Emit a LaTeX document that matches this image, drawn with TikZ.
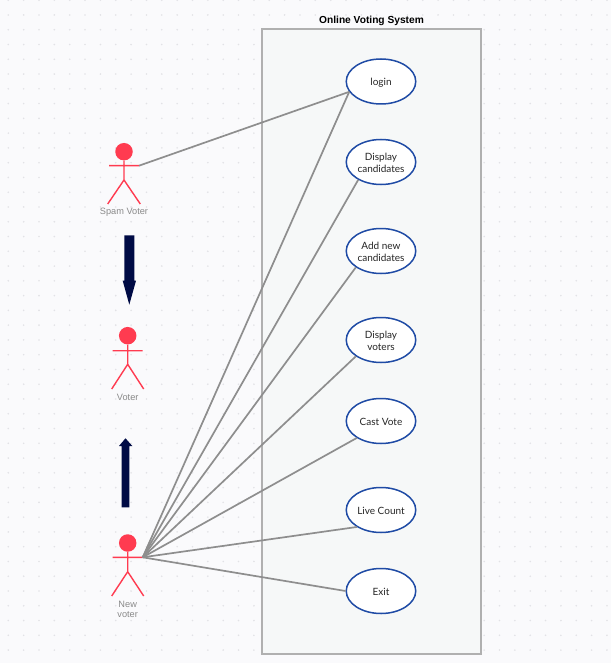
\documentclass[tikz,border=0pt]{standalone}
\usepackage{fontspec}
\setmainfont{Liberation Sans}
\newfontfamily\casefont{Lato}
\definecolor{bgc}{HTML}{FAFAFC}
\definecolor{dotc}{HTML}{E2E2E6}
\definecolor{boxfill}{HTML}{F6F8F8}
\definecolor{boxline}{HTML}{B0B0B0}
\definecolor{ovalline}{HTML}{1F4BA5}
\definecolor{linkc}{HTML}{8E8E8E}
\definecolor{actorc}{HTML}{FF3B50}
\definecolor{navyc}{HTML}{000B45}
\definecolor{labelc}{HTML}{8A8A8A}
\usetikzlibrary{shapes.geometric}
\tikzset{
  usecase/.style={ellipse,draw=ovalline,line width=1.5pt,fill=white,minimum width=69.5pt,minimum height=45pt,inner sep=0pt},
  casetext/.style={align=center,inner sep=0pt,yshift=-0.8pt,font=\casefont\fontsize{10}{11.8}\selectfont,text=black!85},
  link/.style={draw=linkc,line width=1.7pt},
  limb/.style={draw=actorc,line width=1.4pt},
  head/.style={circle,fill=actorc,minimum size=17.5pt,inner sep=0pt},
  actorlabel/.style={font=\fontsize{9.2}{10.5}\selectfont,text=labelc,align=center,inner sep=0pt},
  bigarrow/.style={fill=navyc,draw=none}
}
\begin{document}
\begin{tikzpicture}[x=1pt,y=-1pt]
\useasboundingbox (0,0) rectangle (611,663);
\fill[bgc] (0,0) rectangle (611,663);
\foreach \i in {0,...,39}{\foreach \j in {0,...,44}{
  \fill[dotc] ({8.3+15.35*\i},{0.2+14.77*\j}) circle (0.9pt);
}}
\node[draw=boxline,line width=2pt,fill=boxfill,minimum width=219pt,minimum height=624.5pt,inner sep=0pt,outer sep=0pt] (sys) at (371.2,341.5) {};
\node[font=\bfseries\fontsize{10.2}{12}\selectfont,text=black,inner sep=0pt] (title) at (371.5,20.8) {Online Voting System};

\node[usecase,label={[casetext]center:login}] (login) at (381,81.5) {};
\node[usecase,label={[casetext]center:{Display\\candidates}}] (cand) at (381,162) {};
\node[usecase,label={[casetext]center:{Add new\\candidates}}] (addc) at (381,251) {};
\node[usecase,label={[casetext]center:{Display\\voters}}] (dvot) at (381,340) {};
\node[usecase,label={[casetext]center:Cast Vote}] (cast) at (381,421) {};
\node[usecase,label={[casetext]center:Live Count}] (live) at (381,510) {};
\node[usecase,label={[casetext]center:Exit}] (exit) at (381,591) {};

% Spam Voter
\node[head] (h1) at (124,151.7) {};
\coordinate (a1l) at (109,165.7);
\coordinate (a1r) at (139,165.7);
\coordinate (p1) at (124,180);
\coordinate (f1l) at (107.7,204);
\coordinate (f1r) at (140.3,204);
\draw[limb] (h1) -- (p1) -- (f1l) (p1) -- (f1r) (a1l) -- (a1r);
\node[actorlabel] (l1) at (124,212.5) {Spam Voter};

% Voter
\node[head] (h2) at (127.7,335.7) {};
\coordinate (a2l) at (112.7,350.7);
\coordinate (a2r) at (142.7,350.7);
\coordinate (p2) at (127.7,364.3);
\coordinate (f2l) at (111.7,389);
\coordinate (f2r) at (143.7,389);
\draw[limb] (h2) -- (p2) -- (f2l) (p2) -- (f2r) (a2l) -- (a2r);
\node[actorlabel] (l2) at (127.7,397.5) {Voter};

% New voter
\node[head] (h3) at (127.7,543) {};
\coordinate (a3l) at (112.7,557.3);
\coordinate (a3r) at (142.7,557.3);
\coordinate (p3) at (127.7,571.7);
\coordinate (f3l) at (111.7,596);
\coordinate (f3r) at (143.7,596);
\draw[limb] (h3) -- (p3) -- (f3l) (p3) -- (f3r) (a3l) -- (a3r);
\node[actorlabel] (l3) at (127.7,609.5) {New\\voter};

% links
\draw[link] (a1r) -- (login.198);
\draw[link] (a3r) -- (login.198);
\draw[link] (a3r) -- (cand.218);
\draw[link] (a3r) -- (addc.213);
\draw[link] (a3r) -- (dvot.213);
\draw[link] (a3r) -- (cast.215);
\draw[link] (a3r) -- (live.215);
\draw[link] (a3r) -- (exit.180);

% big arrows
\fill[bigarrow] (124.3,235.3) -- (134.3,235.3) -- (134.3,280.7) -- (136,280.7) -- (129.3,304.7) -- (122.7,280.7) -- (124.3,280.7) -- cycle;
\fill[bigarrow] (121.7,507.3) -- (129.3,507.3) -- (129.3,446) -- (132.3,446) -- (125.5,438.3) -- (119,446) -- (121.7,446) -- cycle;
\end{tikzpicture}
\end{document}
